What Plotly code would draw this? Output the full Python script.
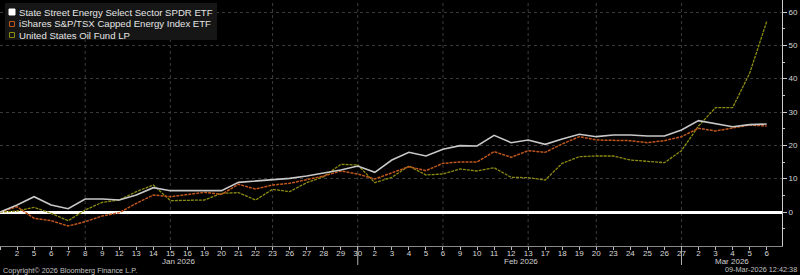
import plotly.graph_objects as go

# ---- data ----
day_labels = ["", "2", "5", "6", "7", "8", "9", "12", "13", "14", "15", "16", "19", "20", "21", "22", "23",
              "26", "27", "28", "29", "30",
              "2", "3", "4", "5", "6", "9", "10", "11", "12", "13", "17", "18", "19", "20", "23", "24", "25", "26", "27",
              "2", "3", "4", "5", "6"]
month_labels = ["Jan 2026", "Feb 2026", "Mar 2026"]
month_label_pos = [10.5, 30.6, 42.95]
month_sep_idx = [21, 40]
grid_idx = [5, 10, 16, 21, 26, 31, 35, 40]

xle = [0, 2.1, 4.6, 2.1, 1.0, 3.9, 3.9, 3.6, 5.1, 7.3, 6.4, 6.4, 6.4, 6.4, 8.9, 9.3, 9.9, 10.1, 10.8, 11.6,
       12.6, 13.8, 11.9, 15.6, 17.9, 16.8, 18.8, 19.9, 19.8, 23.0, 20.8, 21.6, 20.3, 21.9, 23.3, 22.6, 23.1,
       23.1, 22.8, 22.8, 24.6, 27.4, 26.4, 25.6, 26.2, 26.4]
xeg = [0, 1.6, -1.9, -2.6, -4.2, -2.9, -1.2, -0.2, 2.6, 5.1, 4.6, 5.3, 5.9, 5.3, 8.3, 6.9, 8.1, 8.6, 9.6, 10.8,
       12.3, 11.4, 9.9, 11.8, 13.6, 12.4, 14.6, 15.0, 15.0, 18.1, 16.4, 18.4, 17.9, 20.4, 22.6, 21.6, 21.6,
       21.4, 20.8, 21.4, 22.6, 25.1, 24.3, 25.1, 26.1, 25.8]
uso = [0, 0.3, 1.4, -0.4, -2.6, 0.6, 2.9, 3.6, 6.1, 8.1, 3.4, 3.6, 3.6, 5.6, 5.8, 3.6, 6.8, 6.1, 8.8, 10.6,
       14.3, 14.1, 8.8, 10.4, 13.8, 11.1, 11.4, 12.9, 12.3, 13.3, 10.4, 10.3, 9.6, 14.6, 16.6, 16.8, 16.8,
       15.6, 15.1, 14.8, 18.4, 25.8, 31.3, 31.3, 41.6, 57.1]
series_names = ["State Street Energy Select Sector SPDR ETF",
                "iShares S&P/TSX Capped Energy Index ETF",
                "United States Oil Fund LP"]
series_colors = ["#c8c8c8", "#c0561c", "#8c8c10"]

x = list(range(len(xle)))
W, H = 800, 275
L, R, T, B = 0, 18, 0, 29
pw, ph = W - L - R, H - T - B

def px(v):
    return v / pw

def py(v):
    return 1 - v / ph

FONT = "Liberation Sans, Arial"

fig = go.Figure()
fig.add_trace(go.Scatter(x=x, y=uso, mode="lines", line=dict(color=series_colors[2], width=1.3, dash="3px,1px"),
                         showlegend=False))
fig.add_trace(go.Scatter(x=x, y=xeg, mode="lines", line=dict(color=series_colors[1], width=1.5, dash="3px,1px"),
                         showlegend=False))
fig.add_trace(go.Scatter(x=x, y=xle, mode="lines", line=dict(color=series_colors[0], width=1.6),
                         showlegend=False))

shapes = []
for gi in grid_idx:
    shapes.append(dict(type="line", xref="x", yref="paper", x0=gi, x1=gi, y0=0, y1=1,
                       line=dict(color="#3c3c3c", width=1, dash="dot"), layer="below"))
for mi in month_sep_idx:
    shapes.append(dict(type="line", xref="x", yref="paper", x0=mi, x1=mi, y0=0, y1=py(265),
                       line=dict(color="#b0b0b0", width=1)))
# legend box
shapes.append(dict(type="rect", xref="paper", yref="paper", x0=px(5), x1=px(217), y0=py(40), y1=py(3),
                   fillcolor="#161616", line=dict(width=0), layer="above"))
shapes.append(dict(type="rect", xref="paper", yref="paper", x0=px(9), x1=px(15), y0=py(15), y1=py(9),
                   fillcolor="#ffffff", line=dict(color="#ffffff", width=1), layer="above"))
shapes.append(dict(type="rect", xref="paper", yref="paper", x0=px(9.5), x1=px(14.5), y0=py(26.5), y1=py(21.5),
                   fillcolor="rgba(0,0,0,0)", line=dict(color=series_colors[1], width=1), layer="above"))
shapes.append(dict(type="rect", xref="paper", yref="paper", x0=px(9.5), x1=px(14.5), y0=py(37.5), y1=py(32.5),
                   fillcolor="rgba(0,0,0,0)", line=dict(color="#8c8c10", width=1), layer="above"))

annotations = []
for i, name in enumerate(series_names):
    annotations.append(dict(xref="paper", yref="paper", x=px(16.5), y=py(12.5 + 11.5 * i), text=name,
                            showarrow=False, xanchor="left", yanchor="middle",
                            font=dict(family=FONT, size=9.6, color="#e4e4e4")))
for lab, pos in zip(month_labels, month_label_pos):
    annotations.append(dict(xref="x", yref="paper", x=pos, y=py(261.5), text=lab, showarrow=False,
                            xanchor="center", yanchor="middle",
                            font=dict(family=FONT, size=8, color="#d0d0d0")))
annotations.append(dict(xref="paper", yref="paper", x=px(1), y=py(270), text="Copyright© 2026 Bloomberg Finance L.P.",
                        showarrow=False, xanchor="left", yanchor="middle",
                        font=dict(family=FONT, size=7.3, color="#c0c0c0")))
annotations.append(dict(xref="paper", yref="paper", x=px(799), y=py(269.5), text="09-Mar-2026 12:42:38",
                        showarrow=False, xanchor="right", yanchor="middle",
                        font=dict(family=FONT, size=7.3, color="#c0c0c0")))

fig.update_layout(
    width=W, height=H, margin=dict(l=L, r=R, t=T, b=B),
    paper_bgcolor="#000000", plot_bgcolor="#000000",
    shapes=shapes, annotations=annotations, showlegend=False,
    xaxis=dict(range=[0, 45.9], tickmode="array", tickvals=x, ticktext=day_labels,
               ticks="outside", ticklen=3, tickcolor="#bbbbbb", showgrid=False, zeroline=False,
               showline=True, linecolor="#888888", linewidth=1, ticklabelstandoff=-4,
               tickfont=dict(family=FONT, size=8, color="#d8d8d8")),
    yaxis=dict(range=[-10.2, 63.6], side="right", tickmode="array", tickvals=[0, 10, 20, 30, 40, 50, 60],
               ticks="outside", ticklen=4, tickcolor="#cccccc",
               minor=dict(tickmode="array", tickvals=[-5, 5, 15, 25, 35, 45, 55], ticks="outside", ticklen=2,
                          tickcolor="#cccccc", showgrid=False),
               showgrid=True, gridcolor="#3a3a3a", griddash="dot", gridwidth=1,
               zeroline=True, zerolinecolor="#ffffff", zerolinewidth=2.5,
               showline=True, linecolor="#cccccc", linewidth=1,
               tickfont=dict(family=FONT, size=8, color="#d8d8d8")),
)

fig.write_html("out.html")
